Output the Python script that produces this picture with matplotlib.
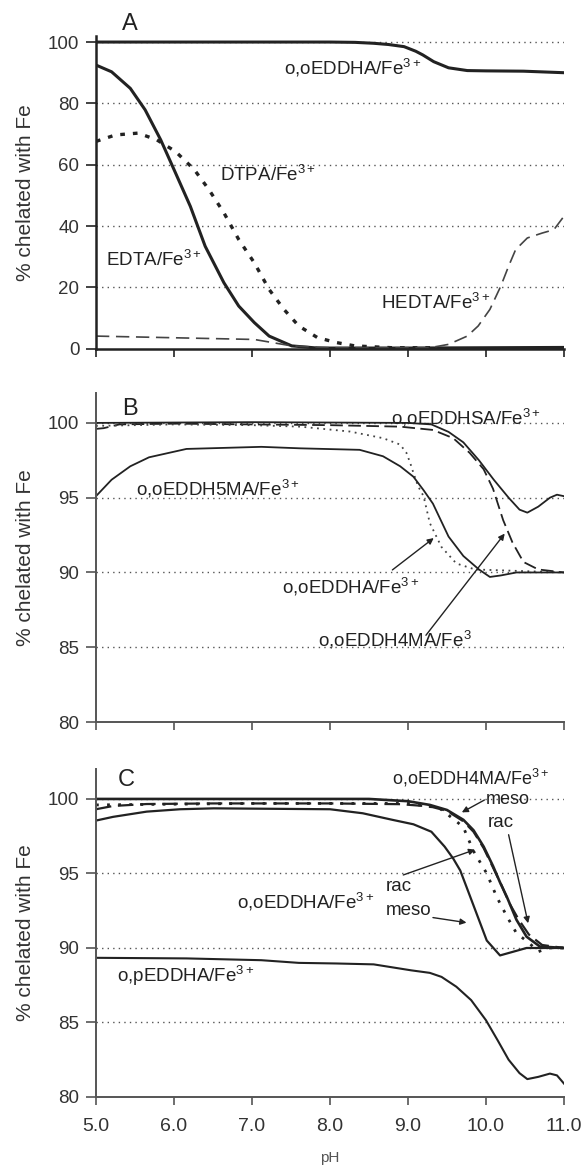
import matplotlib
matplotlib.use("Agg")
import matplotlib.pyplot as plt

plt.rcParams['font.family'] = ['Liberation Sans', 'DejaVu Sans']
plt.rcParams['mathtext.fontset'] = 'custom'
plt.rcParams['mathtext.rm'] = 'Liberation Sans'
plt.rcParams['mathtext.it'] = 'Liberation Sans'
plt.rcParams['mathtext.default'] = 'rm'

# ---- panel A: classic chelates (0-100 %)
ph_eddha_a = [5.0, 6.0, 7.0, 8.0, 8.32, 8.56, 8.75, 8.95, 9.1, 9.19, 9.33, 9.52, 9.76, 10.0, 10.48, 11.0]
v_eddha_a = [100, 100, 100, 100, 99.9, 99.6, 99.2, 98.5, 97.0, 95.8, 93.6, 91.6, 90.7, 90.6, 90.5, 90.0]

ph_edta = [5.0, 5.2, 5.44, 5.63, 5.83, 6.02, 6.21, 6.40, 6.64, 6.83, 7.03, 7.22, 7.51, 7.84, 9.0, 11.0]
v_edta = [92.5, 90.3, 84.9, 77.9, 68.1, 57.3, 46.4, 33.4, 21.5, 13.9, 8.5, 4.1, 0.9, 0.2, 0.2, 0.4]

ph_dtpa = [5.0, 5.25, 5.54, 5.78, 6.02, 6.26, 6.45, 6.64, 6.83, 7.03, 7.22, 7.41, 7.60, 7.84, 8.08, 8.32, 8.80, 9.3]
v_dtpa = [67.6, 69.7, 70.3, 68.1, 64.3, 58.4, 51.8, 44.3, 35.6, 28.0, 19.3, 12.8, 7.4, 3.6, 2.0, 0.9, 0.3, 0.3]

ph_hedta = [5.0, 5.92, 7.03, 7.51, 8.0, 9.28, 9.52, 9.76, 9.90, 10.05, 10.19, 10.29, 10.38, 10.53, 10.72, 10.87, 11.0]
v_hedta = [4.1, 3.6, 3.0, 0.9, 0.3, 0.3, 1.4, 4.1, 7.4, 12.8, 20.4, 26.9, 32.3, 36.1, 37.7, 38.8, 43.2]

# ---- panel B: EDDHA analogues
ph_sa = [5.0, 7.0, 9.0, 9.3, 9.52, 9.71, 9.91, 10.10, 10.29, 10.43, 10.53, 10.67, 10.82, 10.91, 11.0]
v_sa = [100, 100.05, 100, 99.9, 99.4, 98.7, 97.5, 96.2, 95.0, 94.2, 94.0, 94.4, 95.0, 95.2, 95.1]

ph_4ma_b = [5.0, 5.1, 5.3, 6.0, 7.0, 8.0, 8.9, 9.32, 9.58, 9.79, 9.97, 10.09, 10.22, 10.34, 10.48, 10.67, 11.0]
v_4ma_b = [99.6, 99.65, 99.9, 99.95, 99.9, 99.85, 99.75, 99.53, 98.98, 98.0, 96.9, 95.6, 93.5, 92.0, 90.7, 90.2, 90.0]

ph_eddha_b = [5.0, 6.0, 7.0, 7.62, 8.26, 8.68, 8.9, 8.98, 9.03, 9.07, 9.13, 9.2, 9.28, 9.43, 9.62, 9.86, 11.0]
v_eddha_b = [99.8, 99.9, 99.85, 99.75, 99.42, 98.98, 98.55, 98.0, 97.3, 96.65, 95.76, 95.1, 93.3, 91.7, 90.6, 90.2, 90.0]

ph_5ma = [5.0, 5.2, 5.44, 5.68, 6.16, 7.12, 7.62, 8.38, 8.68, 8.9, 9.07, 9.2, 9.32, 9.52, 9.71, 9.91, 10.05, 10.19, 10.39, 11.0]
v_5ma = [95.1, 96.2, 97.1, 97.7, 98.26, 98.4, 98.3, 98.2, 97.77, 97.1, 96.4, 95.5, 94.6, 92.4, 91.1, 90.2, 89.7, 89.8, 90.0, 90.0]

# ---- panel C: meso / rac isomers
ph_4ma_meso = [5.0, 7.0, 8.5, 9.0, 9.28, 9.5, 9.71, 9.84, 9.97, 10.09, 10.18, 10.27, 10.39, 10.52, 10.69, 11.0]
v_4ma_meso = [100, 100, 100, 99.85, 99.6, 99.26, 98.6, 97.9, 96.8, 95.5, 94.4, 93.4, 91.9, 90.76, 90.1, 90.0]

ph_4ma_rac = [5.0, 5.22, 5.65, 6.5, 8.0, 8.9, 9.28, 9.5, 9.71, 9.84, 9.97, 10.09, 10.2, 10.3, 10.42, 10.55, 10.72, 11.0]
v_4ma_rac = [99.31, 99.53, 99.66, 99.7, 99.7, 99.65, 99.5, 99.2, 98.5, 97.8, 96.7, 95.4, 94.2, 93.0, 91.9, 90.9, 90.2, 90.0]

ph_eddha_meso = [5.0, 5.22, 5.65, 6.08, 6.51, 8.0, 8.42, 8.80, 9.07, 9.3, 9.47, 9.58, 9.67, 9.75, 9.88, 10.01, 10.18, 10.35, 10.52, 11.0]
v_eddha_meso = [98.55, 98.8, 99.15, 99.31, 99.37, 99.31, 99.04, 98.6, 98.3, 97.8, 96.8, 96.0, 95.2, 94.1, 92.3, 90.5, 89.5, 89.75, 90.0, 90.0]

ph_eddha_rac = [5.0, 7.0, 9.0, 9.4, 9.62, 9.71, 9.84, 10.01, 10.14, 10.27, 10.39, 10.56, 10.67, 10.8, 11.0]
v_eddha_rac = [99.6, 99.7, 99.7, 99.4, 98.5, 98.1, 96.5, 95.0, 93.4, 92.1, 91.0, 90.3, 89.75, 90.0, 90.0]

ph_opeddha = [5.0, 6.16, 7.12, 7.6, 8.08, 8.56, 8.8, 9.04, 9.28, 9.43, 9.62, 9.81, 10.0, 10.15, 10.29, 10.43, 10.53, 10.67, 10.82, 10.91, 11.0]
v_opeddha = [89.34, 89.3, 89.18, 89.0, 88.96, 88.9, 88.7, 88.5, 88.33, 88.06, 87.4, 86.5, 85.15, 83.8, 82.5, 81.6, 81.2, 81.35, 81.57, 81.45, 80.9]

xticks = [5.0, 6.0, 7.0, 8.0, 9.0, 10.0, 11.0]
yticks_a = [0, 20, 40, 60, 80, 100]
yticks_bc = [80, 85, 90, 95, 100]

ink = '#222222'
fe = 'Fe$^{3+}$'

fig = plt.figure(figsize=(5.87, 11.70), dpi=100)
left, width = 0.1635, 0.7973
axA = fig.add_axes([left, 0.702, width, 0.2673])
axB = fig.add_axes([left, 0.3829, width, 0.2812])
axC = fig.add_axes([left, 0.0624, width, 0.2802])


def style(ax, ylim, yticks, spine_c, spine_w, labels_x):
    ax.set_xlim(5.0, 11.0)
    ax.set_ylim(*ylim)
    for s in ['top', 'right']:
        ax.spines[s].set_visible(False)
    for s in ['left', 'bottom']:
        ax.spines[s].set_color(spine_c)
        ax.spines[s].set_linewidth(spine_w)
    ax.set_xticks(xticks)
    ax.set_yticks(yticks)
    for y in yticks[1:]:
        ax.axhline(y, color='#555555', lw=1.0, ls=(0, (1, 3)), zorder=0)
    ax.tick_params(axis='y', direction='out', length=7, width=1.2, color=spine_c,
                   labelsize=13.5, labelcolor='#333333', pad=5)
    ax.tick_params(axis='x', direction='out', length=6, width=1.2, color=spine_c,
                   labelsize=14, labelcolor='#333333', pad=9)
    if labels_x:
        ax.set_xticklabels(['%.1f' % t for t in xticks])
    else:
        ax.set_xticklabels([])
    ax.set_ylabel('% chelated with Fe', fontsize=15, color='#333333', labelpad=10)
    ax.yaxis.set_label_coords(-0.13, 0.5)


def arrow(ax, start, end):
    ax.annotate('', xy=end, xytext=start,
                arrowprops=dict(arrowstyle='-|>', color=ink, lw=1.0,
                                mutation_scale=9, shrinkA=0, shrinkB=0))


# Panel A
style(axA, (0, 102), yticks_a, '#222222', 1.8, False)
axA.plot(ph_eddha_a, v_eddha_a, color=ink, lw=2.2)
axA.plot(ph_edta, v_edta, color=ink, lw=2.2)
axA.plot(ph_dtpa, v_dtpa, color=ink, lw=2.4, ls=(0, (1.4, 2.4)))
axA.plot(ph_hedta, v_hedta, color='#444444', lw=1.2, ls=(0, (8, 4)))
axA.text(5.44, 106.0, 'A', fontsize=17, color=ink, ha='center', va='center', clip_on=False)
axA.text(7.41, 91.4, 'o,oEDDHA/' + fe, fontsize=13.5, color=ink, va='center')
axA.text(6.59, 56.7, 'DTPA/' + fe, fontsize=13.5, color=ink, va='center')
axA.text(5.13, 29.0, 'EDTA/' + fe, fontsize=13.5, color=ink, va='center')
axA.text(8.66, 15.0, 'HEDTA/' + fe, fontsize=13.5, color=ink, va='center')

# Panel B
style(axB, (80, 102), yticks_bc, '#555555', 1.4, False)
axB.plot(ph_sa, v_sa, color=ink, lw=1.3)
axB.plot(ph_4ma_b, v_4ma_b, color=ink, lw=1.3, ls=(0, (7, 3)))
axB.plot(ph_eddha_b, v_eddha_b, color='#444444', lw=1.3, ls=(0, (1, 2.5)))
axB.plot(ph_5ma, v_5ma, color=ink, lw=1.3)
axB.text(5.44, 100.9, 'B', fontsize=17, color=ink, ha='center', va='center')
axB.text(8.78, 100.3, 'o,oEDDHSA/' + fe, fontsize=13.5, color=ink, va='center')
axB.text(5.51, 95.6, 'o,oEDDH5MA/' + fe, fontsize=13.5, color=ink, va='center')
axB.text(7.39, 89.05, 'o,oEDDHA/' + fe, fontsize=13.5, color=ink, va='center')
axB.text(7.84, 85.5, 'o,oEDDH4MA/Fe$^{3}$', fontsize=13.5, color=ink, va='center')
arrow(axB, (8.80, 90.17), (9.33, 92.3))
arrow(axB, (9.23, 85.8), (10.24, 92.6))

# Panel C
style(axC, (80, 102), yticks_bc, '#555555', 1.4, True)
axC.plot(ph_4ma_meso, v_4ma_meso, color=ink, lw=1.9)
axC.plot(ph_4ma_rac, v_4ma_rac, color=ink, lw=1.6, ls=(0, (7, 3)))
axC.plot(ph_eddha_meso, v_eddha_meso, color=ink, lw=1.6)
axC.plot(ph_eddha_rac, v_eddha_rac, color=ink, lw=2.0, ls=(0, (1, 3)))
axC.plot(ph_opeddha, v_opeddha, color=ink, lw=1.5)
axC.text(5.39, 101.3, 'C', fontsize=17, color=ink, ha='center', va='center')
axC.text(8.80, 101.4, 'o,oEDDH4MA/' + fe, fontsize=13, color=ink, va='center')
axC.text(10.0, 99.95, 'meso', fontsize=13, color=ink, va='center')
axC.text(10.02, 98.4, 'rac', fontsize=13.5, color=ink, va='center')
axC.text(6.81, 93.1, 'o,oEDDHA/' + fe, fontsize=13.5, color=ink, va='center')
axC.text(8.72, 94.1, 'rac', fontsize=13.5, color=ink, va='center')
axC.text(8.72, 92.5, 'meso', fontsize=13.5, color=ink, va='center')
axC.text(5.27, 88.1, 'o,pEDDHA/' + fe, fontsize=13.5, color=ink, va='center')
arrow(axC, (9.98, 99.93), (9.69, 99.1))
arrow(axC, (10.29, 97.6), (10.54, 91.66))
arrow(axC, (8.94, 94.9), (9.86, 96.6))
arrow(axC, (9.32, 92.04), (9.75, 91.7))
axC.set_xlabel('pH', fontsize=11, color='#555555', labelpad=12)

fig.savefig('out.png', dpi=100)
